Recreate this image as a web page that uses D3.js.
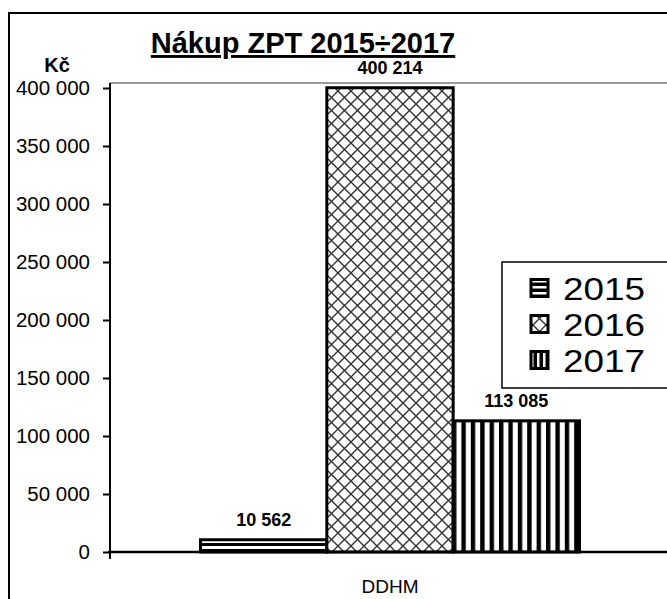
<!DOCTYPE html>
<html><head><meta charset="utf-8">
<script src="https://cdn.jsdelivr.net/npm/d3@7"></script>
<style>html,body{margin:0;padding:0;background:#fff;}svg{display:block;font-family:"Liberation Sans",Arial,sans-serif;}</style>
</head><body>
<svg id="c" width="667" height="599"></svg>
<script>
const categories = ["DDHM"];
const seriesNames = ["2015", "2016", "2017"];
const values2015 = [10562];
const values2016 = [400214];
const values2017 = [113085];
const yTicks = [0, 50000, 100000, 150000, 200000, 250000, 300000, 350000, 400000];
const title = "Nákup ZPT 2015÷2017";
const yUnit = "Kč";

const seriesValues = [values2015, values2016, values2017];
const svg = d3.select("#c");
const fmt = d3.formatLocale({decimal: ",", thousands: "\u00a0", grouping: [3], currency: ["", " Kč"]}).format(",d");

// patterns
const defs = svg.append("defs");
const p0 = defs.append("pattern").attr("id", "pat0").attr("patternUnits", "userSpaceOnUse").attr("width", 8).attr("height", 6).attr("y", 540);
p0.append("rect").attr("width", 8).attr("height", 6).attr("fill", "#fff");
p0.append("rect").attr("y", 3).attr("width", 8).attr("height", 3).attr("fill", "#000");
const p1 = defs.append("pattern").attr("id", "pat1").attr("patternUnits", "userSpaceOnUse").attr("width", 13).attr("height", 13);
p1.append("rect").attr("width", 13).attr("height", 13).attr("fill", "#fff");
p1.append("path").attr("d", "M-1,-1L14,14M14,-1L-1,14").attr("stroke", "#333").attr("stroke-width", 1.4).attr("fill", "none");
const p2 = defs.append("pattern").attr("id", "pat2").attr("patternUnits", "userSpaceOnUse").attr("width", 9.4).attr("height", 10).attr("x", 452);
p2.append("rect").attr("width", 9.4).attr("height", 10).attr("fill", "#fff");
p2.append("rect").attr("x", 0).attr("width", 4.4).attr("height", 10).attr("fill", "#000");
const fills = ["url(#pat0)", "url(#pat1)", "url(#pat2)"];

// legend icon patterns (denser)
const q0 = defs.append("pattern").attr("id", "ic0").attr("patternUnits", "userSpaceOnUse").attr("width", 20).attr("height", 6).attr("y", 280);
q0.append("rect").attr("width", 20).attr("height", 6).attr("fill", "#000");
q0.append("rect").attr("y", 0).attr("width", 20).attr("height", 2.5).attr("fill", "#fff");
const q2 = defs.append("pattern").attr("id", "ic2").attr("patternUnits", "userSpaceOnUse").attr("width", 6).attr("height", 20).attr("x", 531);
q2.append("rect").attr("width", 6).attr("height", 20).attr("fill", "#000");
q2.append("rect").attr("x", 0).attr("width", 2.5).attr("height", 20).attr("fill", "#fff");
const iconFills = ["url(#ic0)", "url(#pat1)", "url(#ic2)"];

// outer border
svg.append("rect").attr("x", 9).attr("y", 13).attr("width", 720).attr("height", 700)
  .attr("fill", "none").attr("stroke", "#000").attr("stroke-width", 2);

const x0 = d3.scaleBand().domain(categories).range([110, 670]).paddingOuter(0.2388).paddingInner(0);
const x1 = d3.scaleBand().domain(seriesNames).range([0, x0.bandwidth()]);
const y = d3.scaleLinear().domain([0, 400000]).range([552, 88]);

// plot area top border
svg.append("line").attr("x1", 110).attr("x2", 667).attr("y1", 83).attr("y2", 83).attr("stroke", "#999").attr("stroke-width", 2);

// bars
categories.forEach((cat, ci) => {
  seriesNames.forEach((s, si) => {
    const v = seriesValues[si][ci];
    const bx = x0(cat) + x1(s);
    svg.append("rect").attr("x", bx).attr("y", y(v)).attr("width", x1.bandwidth()).attr("height", y(0) - y(v))
      .attr("fill", fills[si]).attr("stroke", "#000").attr("stroke-width", 3);
    svg.append("text").attr("x", bx + x1.bandwidth() / 2).attr("y", y(v) - 14).attr("text-anchor", "middle")
      .attr("font-size", 18).attr("font-weight", "bold").text(fmt(v));
  });
});

// y axis
const yAxis = d3.axisLeft(y).tickValues(yTicks).tickSize(7).tickPadding(13).tickFormat(fmt);
const gy = svg.append("g").attr("transform", "translate(110,0)").call(yAxis);
gy.select(".domain").remove();
gy.selectAll(".tick line").attr("stroke", "#000").attr("stroke-width", 2);
gy.selectAll(".tick text").attr("font-size", 20.5).attr("font-family", "Liberation Sans, Arial, sans-serif").attr("fill", "#000");
svg.append("line").attr("x1", 110).attr("x2", 110).attr("y1", 83).attr("y2", 559).attr("stroke", "#000").attr("stroke-width", 2);

// x axis
const xAxis = d3.axisBottom(x0).tickSize(0).tickPadding(28);
const gx = svg.append("g").attr("transform", "translate(0,552)").call(xAxis);
gx.select(".domain").remove();
gx.selectAll(".tick text").attr("font-size", 19).attr("font-family", "Liberation Sans, Arial, sans-serif").attr("fill", "#000");
svg.append("line").attr("x1", 108).attr("x2", 667).attr("y1", 552).attr("y2", 552).attr("stroke", "#000").attr("stroke-width", 2.5);

// title
svg.append("text").attr("x", 303).attr("y", 53).attr("text-anchor", "middle").attr("font-size", 29).attr("font-weight", "bold")
  .attr("text-decoration", "underline").text(title);
svg.append("text").attr("x", 57).attr("y", 72).attr("text-anchor", "middle").attr("font-size", 20).attr("font-weight", "bold").text(yUnit);

// legend
const lg = svg.append("g");
lg.append("rect").attr("x", 502).attr("y", 262).attr("width", 200).attr("height", 126).attr("fill", "#fff").attr("stroke", "#000").attr("stroke-width", 1.5);
const rowY = [288, 324, 360];
seriesNames.forEach((s, i) => {
  lg.append("rect").attr("x", 531).attr("y", rowY[i] - 8.5).attr("width", 17).attr("height", 17)
    .attr("fill", iconFills[i]).attr("stroke", "#000").attr("stroke-width", 3);
  lg.append("text").attr("x", 563).attr("y", rowY[i] + 11.5).attr("font-size", 31)
    .attr("textLength", 82).attr("lengthAdjust", "spacingAndGlyphs").text(s);
});
</script>
</body></html>
